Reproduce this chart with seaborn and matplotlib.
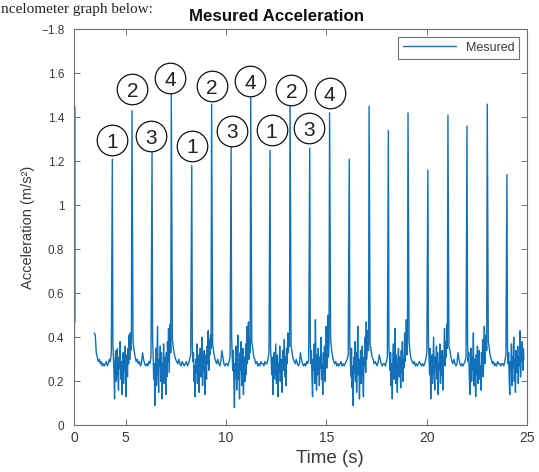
import numpy as np
import pandas as pd
import matplotlib
matplotlib.use("Agg")
import matplotlib.pyplot as plt
import seaborn as sns

# ---------------- data ----------------
data_start = 3.43
data_end = 24.85

spike_t = [4.33, 5.31, 6.31, 7.27, 8.29, 9.28, 10.25, 11.23, 12.19, 13.19, 14.17,
           15.16, 16.14, 17.13, 18.09, 19.07, 20.06, 21.06, 22.01, 23.02, 24.00]
spike_v = [1.21, 1.43, 1.24, 1.51, 1.18, 1.46, 1.27, 1.49, 1.25, 1.48, 1.26,
           1.42, 1.21, 1.45, 1.34, 1.42, 1.16, 1.41, 1.36, 1.46, 1.14]

# trace at the very left edge of the axes
edge_t = [2.44, 2.45, 2.46]
edge_v = [0.25, 1.45, 0.47]

pre_vals = [0.42, 0.41, 0.33, 0.31, 0.29, 0.30, 0.28, 0.29, 0.27, 0.28, 0.27, 0.28,
            0.29, 0.27, 0.28, 0.30, 0.29, 0.33]

noisy = [
    [0.37, 0.30, 0.24, 0.12, 0.29, 0.34, 0.20, 0.27, 0.35, 0.22, 0.16, 0.31, 0.26, 0.38, 0.21, 0.29, 0.14,
     0.27, 0.33, 0.19, 0.30, 0.25, 0.36, 0.13, 0.26, 0.32, 0.22, 0.35, 0.28, 0.41, 0.30, 0.42, 0.34, 0.40],
    [0.39, 0.32, 0.21, 0.28, 0.09, 0.26, 0.35, 0.18, 0.31, 0.45, 0.23, 0.15, 0.30, 0.27, 0.36, 0.20, 0.33,
     0.12, 0.28, 0.24, 0.37, 0.19, 0.31, 0.26, 0.14, 0.33, 0.22, 0.38, 0.29, 0.44, 0.24, 0.35, 0.46, 0.33],
    [0.36, 0.29, 0.33, 0.20, 0.27, 0.13, 0.30, 0.24, 0.37, 0.19, 0.32, 0.26, 0.15, 0.29, 0.35, 0.22, 0.28,
     0.40, 0.18, 0.31, 0.25, 0.34, 0.14, 0.27, 0.32, 0.21, 0.36, 0.28, 0.43, 0.25, 0.39, 0.32, 0.41, 0.35],
    [0.40, 0.31, 0.25, 0.34, 0.19, 0.08, 0.28, 0.22, 0.36, 0.16, 0.30, 0.41, 0.21, 0.27, 0.12, 0.33, 0.25,
     0.38, 0.18, 0.29, 0.35, 0.14, 0.26, 0.31, 0.20, 0.37, 0.23, 0.45, 0.28, 0.34, 0.47, 0.30, 0.39, 0.33],
    [0.35, 0.30, 0.23, 0.31, 0.14, 0.27, 0.33, 0.21, 0.29, 0.37, 0.19, 0.26, 0.32, 0.13, 0.28, 0.24, 0.36,
     0.20, 0.30, 0.27, 0.15, 0.34, 0.25, 0.29, 0.39, 0.22, 0.31, 0.18, 0.35, 0.28, 0.42, 0.33, 0.38, 0.36],
    [0.38, 0.28, 0.34, 0.21, 0.13, 0.30, 0.25, 0.37, 0.19, 0.48, 0.27, 0.16, 0.32, 0.23, 0.35, 0.29, 0.18,
     0.31, 0.26, 0.40, 0.21, 0.28, 0.14, 0.33, 0.24, 0.36, 0.20, 0.30, 0.45, 0.26, 0.35, 0.50, 0.31, 0.37],
    [0.37, 0.29, 0.22, 0.35, 0.17, 0.27, 0.09, 0.31, 0.24, 0.38, 0.20, 0.33, 0.15, 0.28, 0.45, 0.23, 0.30,
     0.12, 0.26, 0.34, 0.19, 0.29, 0.36, 0.22, 0.13, 0.31, 0.27, 0.40, 0.24, 0.47, 0.30, 0.36, 0.43, 0.34],
    [0.36, 0.31, 0.25, 0.33, 0.18, 0.28, 0.12, 0.30, 0.37, 0.21, 0.27, 0.44, 0.19, 0.32, 0.25, 0.15, 0.29,
     0.35, 0.22, 0.31, 0.27, 0.17, 0.34, 0.24, 0.38, 0.20, 0.30, 0.26, 0.42, 0.29, 0.36, 0.48, 0.32, 0.38],
    [0.38, 0.30, 0.23, 0.35, 0.12, 0.27, 0.32, 0.19, 0.29, 0.40, 0.24, 0.16, 0.31, 0.26, 0.36, 0.21, 0.33,
     0.14, 0.28, 0.25, 0.37, 0.19, 0.30, 0.23, 0.34, 0.16, 0.28, 0.32, 0.44, 0.27, 0.38, 0.31, 0.46, 0.35],
    [0.37, 0.29, 0.33, 0.22, 0.14, 0.28, 0.35, 0.20, 0.31, 0.25, 0.42, 0.18, 0.30, 0.26, 0.13, 0.32, 0.23,
     0.36, 0.19, 0.29, 0.34, 0.21, 0.27, 0.16, 0.33, 0.25, 0.39, 0.22, 0.31, 0.45, 0.28, 0.36, 0.41, 0.34],
    [0.36, 0.28, 0.33, 0.21, 0.14, 0.29, 0.25, 0.37, 0.18, 0.31, 0.26, 0.40, 0.20, 0.30, 0.15, 0.34, 0.24,
     0.28, 0.36, 0.19, 0.31, 0.27, 0.43, 0.22, 0.33, 0.29, 0.38, 0.25, 0.35, 0.30],
]

quiet = [
    [0.38, 0.34, 0.31, 0.29, 0.30, 0.28, 0.29, 0.27, 0.28, 0.33, 0.30, 0.28, 0.27, 0.28, 0.27, 0.29, 0.28, 0.31],
    [0.39, 0.35, 0.32, 0.30, 0.29, 0.28, 0.30, 0.28, 0.27, 0.29, 0.28, 0.27, 0.28, 0.29, 0.27, 0.28, 0.30, 0.32],
    [0.37, 0.33, 0.31, 0.29, 0.28, 0.30, 0.28, 0.27, 0.29, 0.34, 0.31, 0.28, 0.27, 0.28, 0.28, 0.27, 0.29, 0.31],
    [0.38, 0.35, 0.31, 0.30, 0.28, 0.29, 0.27, 0.28, 0.27, 0.29, 0.28, 0.28, 0.27, 0.29, 0.28, 0.28, 0.30, 0.33],
    [0.36, 0.33, 0.30, 0.29, 0.28, 0.30, 0.28, 0.27, 0.28, 0.33, 0.30, 0.28, 0.27, 0.28, 0.27, 0.29, 0.28, 0.30],
    [0.39, 0.34, 0.31, 0.29, 0.28, 0.29, 0.27, 0.28, 0.27, 0.28, 0.29, 0.27, 0.28, 0.27, 0.28, 0.29, 0.30, 0.32],
    [0.37, 0.34, 0.31, 0.30, 0.28, 0.29, 0.28, 0.27, 0.29, 0.32, 0.30, 0.28, 0.27, 0.28, 0.28, 0.27, 0.29, 0.31],
    [0.38, 0.33, 0.30, 0.29, 0.28, 0.29, 0.27, 0.28, 0.27, 0.28, 0.29, 0.28, 0.27, 0.28, 0.27, 0.28, 0.30, 0.33],
    [0.36, 0.34, 0.31, 0.29, 0.28, 0.30, 0.28, 0.27, 0.28, 0.33, 0.30, 0.28, 0.27, 0.28, 0.27, 0.28, 0.29, 0.31],
    [0.38, 0.35, 0.31, 0.30, 0.28, 0.29, 0.27, 0.28, 0.27, 0.29, 0.28, 0.28, 0.27, 0.28, 0.28, 0.27, 0.29, 0.32],
]

lab_x = [4.33, 5.33, 6.26, 7.20, 8.29, 9.31, 10.28, 11.19, 12.27, 13.26, 14.15, 15.17]
lab_y = [1.295, 1.527, 1.315, 1.577, 1.27, 1.542, 1.338, 1.565, 1.342, 1.524, 1.35, 1.509]
lab_txt = ['1', '2', '3', '4', '1', '2', '3', '4', '1', '2', '3', '4']

x_left = 2.42
xtick_pos = [x_left, 5, 10, 15, 20, 25]
xtick_lab = ['0', '5', '10', '15', '20', '25']
ytick_pos = [0, 0.2, 0.4, 0.6, 0.8, 1.0, 1.2, 1.4, 1.6, 1.8]
ytick_lab = ['0', '0.2', '0.4', '0.6', '0.8', '1', '1.2', '1.4', '1.6', '\u22121.8']

top_fragment = 'ncelometer graph below:'

# ---------------- assemble the series ----------------
t_parts, v_parts = [], []
t_parts.append(np.linspace(data_start, spike_t[0], len(pre_vals) + 1)[:-1])
v_parts.append(pre_vals)
for k in range(len(spike_t)):
    t_parts.append([spike_t[k]])
    v_parts.append([spike_v[k]])
    if k < len(spike_t) - 1:
        seg = noisy[k // 2] if k % 2 == 0 else quiet[k // 2]
        t_parts.append(np.linspace(spike_t[k], spike_t[k + 1], len(seg) + 2)[1:-1])
    else:
        seg = noisy[-1]
        t_parts.append(np.linspace(spike_t[k], data_end, len(seg) + 1)[1:])
    v_parts.append(seg)

df = pd.DataFrame({'t': np.concatenate([np.asarray(p, float) for p in t_parts]),
                   'a': np.concatenate([np.asarray(p, float) for p in v_parts])})
df_edge = pd.DataFrame({'t': edge_t, 'a': edge_v})
df_lab = pd.DataFrame({'x': lab_x, 'y': lab_y, 'txt': lab_txt})

# ---------------- plot ----------------
sns.set_style('ticks')
plt.rcParams['font.family'] = ['Liberation Sans', 'DejaVu Sans']

line_color = '#1170b8'
spine_color = '#707070'
text_color = '#3a3a3a'

fig = plt.figure(figsize=(5.39, 4.72), dpi=100)
ax = fig.add_axes([0.1373, 0.0989, 0.8404, 0.839])

sns.lineplot(data=df_edge, x='t', y='a', ax=ax, color=line_color, lw=1.0,
             estimator=None, sort=False, legend=False)
sns.lineplot(data=df, x='t', y='a', ax=ax, color=line_color, lw=1.0,
             estimator=None, sort=False, label='Mesured')

sns.scatterplot(data=df_lab, x='x', y='y', ax=ax, s=22 ** 2, facecolor='white',
                edgecolor='#111111', linewidth=0.9, zorder=4, legend=False)
for _, r in df_lab.iterrows():
    ax.text(r['x'], r['y'], r['txt'], ha='center', va='center_baseline',
            fontsize=15, color='#222222', zorder=5)

ax.set_xlim(x_left, 25)
ax.set_ylim(0, 1.8)
ax.set_xticks(xtick_pos)
ax.set_xticklabels(xtick_lab)
ax.set_yticks(ytick_pos)
ax.set_yticklabels(ytick_lab)
ax.tick_params(direction='in', length=4, width=0.7, color=spine_color,
               labelcolor=text_color, top=True, right=True)
ax.tick_params(axis='y', labelsize=8.5, pad=7)
ax.tick_params(axis='x', labelsize=10, pad=4)
for s in ax.spines.values():
    s.set_color(spine_color)
    s.set_linewidth(0.8)
    s.set_visible(True)

ax.set_title('Mesured Acceleration', fontsize=12.2, fontweight='bold', pad=6,
             color='#111111', x=0.448)
ax.set_xlabel('Time (s)', fontsize=13.5, color=text_color, labelpad=0)
ax.xaxis.set_label_coords(0.565, -0.062, transform=ax.transAxes)
ax.xaxis.label.set_va('top')
ax.set_ylabel('Acceleration (m/s\u00b2)', fontsize=10.5, color=text_color, labelpad=4)

leg = ax.legend(loc='upper right', fontsize=9, frameon=True, fancybox=False,
                edgecolor=spine_color, framealpha=1, handlelength=4.2,
                borderaxespad=0.6, borderpad=0.4)
leg.get_frame().set_linewidth(0.8)
for txt in leg.get_texts():
    txt.set_color(text_color)

fig.text(0.002, 1 - 12.5 / 472, top_fragment, fontsize=11, family='Liberation Serif',
         ha='left', va='baseline', color='#222222')

fig.savefig('out.png', dpi=100)
